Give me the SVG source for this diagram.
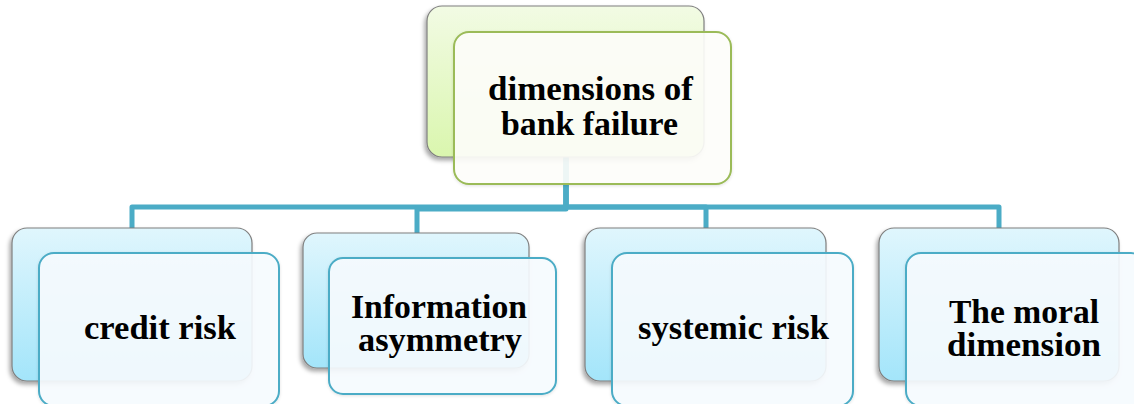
<svg xmlns="http://www.w3.org/2000/svg" width="1134" height="404" viewBox="0 0 1134 404">
<defs>
<linearGradient id="gBlue" x1="0" y1="0" x2="0" y2="1">
<stop offset="0" stop-color="#E0F6FD"/>
<stop offset="1" stop-color="#A3E5FA"/>
</linearGradient>
<linearGradient id="gGreen" x1="0" y1="0" x2="0" y2="1">
<stop offset="0" stop-color="#F2FBE4"/>
<stop offset="1" stop-color="#DAF6AE"/>
</linearGradient>
<filter id="sh" x="-10%" y="-10%" width="125%" height="130%">
<feDropShadow dx="-2" dy="3" stdDeviation="2" flood-color="#000" flood-opacity="0.35"/>
</filter>
<filter id="sh2" x="-10%" y="-10%" width="125%" height="130%">
<feDropShadow dx="0" dy="1" stdDeviation="1.5" flood-color="#000" flood-opacity="0.12"/>
</filter>
</defs>
<style>
.conn{fill:none;stroke:#4BACC6;stroke-width:5;stroke-linejoin:round}
.backB{fill:url(#gBlue);stroke:#7F7F7F;stroke-width:1.2;filter:url(#sh)}
.backG{fill:url(#gGreen);stroke:#7F7F7F;stroke-width:1.2;filter:url(#sh)}
.frontB{fill:#F7FCFF;fill-opacity:0.9;stroke:#4BACC6;stroke-width:2;filter:url(#sh2)}
.frontG{fill:#FEFEFB;fill-opacity:0.9;stroke:#9BBB59;stroke-width:2;filter:url(#sh2)}
.t{font-family:"Liberation Serif","DejaVu Serif",serif;font-weight:bold;font-size:33px;fill:#000;text-anchor:middle}
</style>
<g id="connectors">
<path class="conn" d="M566 157 V207 H132 V228"/>
<path class="conn" d="M566 157 V209 H417 V233"/>
<path class="conn" d="M566 157 V207 H706 V228"/>
<path class="conn" d="M566 157 V207 H999 V228"/>
</g>
<g id="node-top">
<rect class="backG" x="427" y="6" width="277" height="151" rx="15"/>
<rect class="frontG" x="454" y="32" width="277" height="152" rx="15"/>
<text class="t" x="590.5" y="100" textLength="205" lengthAdjust="spacingAndGlyphs">dimensions of</text>
<text class="t" x="589.5" y="135" textLength="177" lengthAdjust="spacingAndGlyphs">bank failure</text>
</g>
<g id="node-credit">
<rect class="backB" x="12" y="228" width="240" height="153" rx="15"/>
<rect class="frontB" x="39" y="253" width="240" height="153" rx="15"/>
<text class="t" x="160" y="339" textLength="152" lengthAdjust="spacingAndGlyphs">credit risk</text>
</g>
<g id="node-info">
<rect class="backB" x="303" y="233" width="226" height="135" rx="14"/>
<rect class="frontB" x="329" y="258" width="227" height="136" rx="14"/>
<text class="t" x="439" y="318" textLength="176" lengthAdjust="spacingAndGlyphs">Information</text>
<text class="t" x="440" y="351" textLength="164" lengthAdjust="spacingAndGlyphs">asymmetry</text>
</g>
<g id="node-systemic">
<rect class="backB" x="585" y="228" width="241" height="153" rx="15"/>
<rect class="frontB" x="612" y="253" width="241" height="153" rx="15"/>
<text class="t" x="733.5" y="339" textLength="191" lengthAdjust="spacingAndGlyphs">systemic risk</text>
</g>
<g id="node-moral">
<rect class="backB" x="879" y="228" width="240" height="153" rx="15"/>
<rect class="frontB" x="906" y="253" width="240" height="153" rx="15"/>
<text class="t" x="1024" y="323" textLength="150" lengthAdjust="spacingAndGlyphs">The moral</text>
<text class="t" x="1024" y="356" textLength="154" lengthAdjust="spacingAndGlyphs">dimension</text>
</g>
</svg>
